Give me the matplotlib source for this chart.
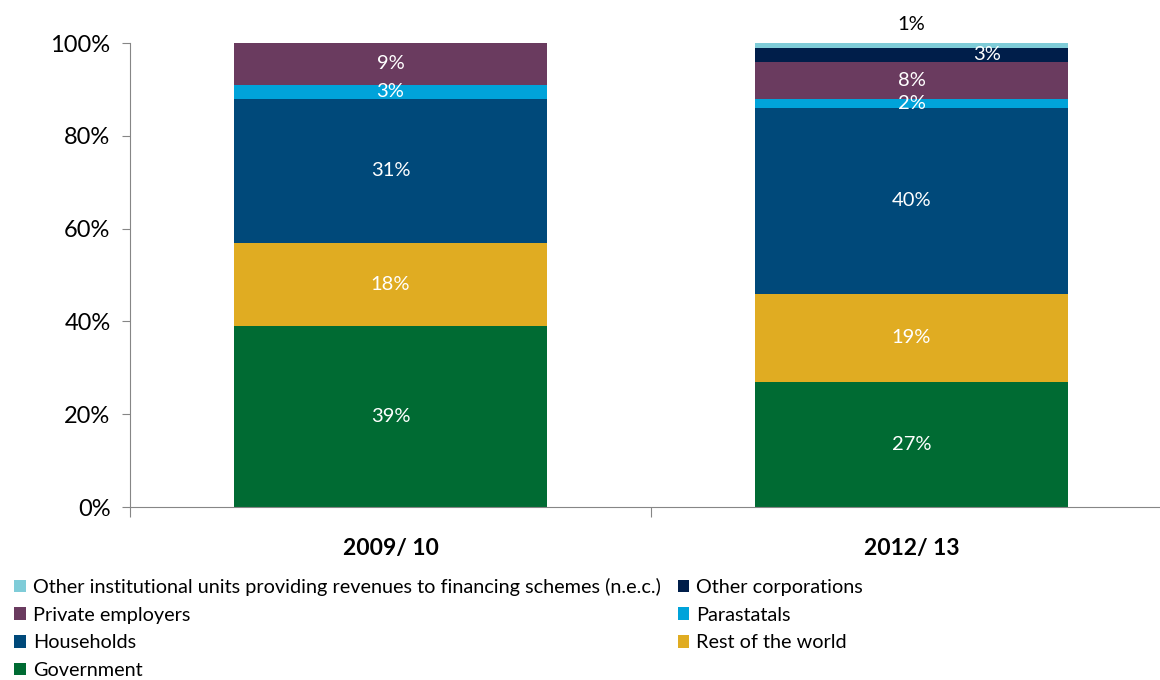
import matplotlib.pyplot as plt
import numpy as np

plt.rcParams['font.family'] = ['Lato', 'DejaVu Sans']

years = ['2009/ 10', '2012/ 13']
# shares of financing by source, bottom to top
government = [39, 27]
rest_of_world = [18, 19]
households = [31, 40]
parastatals = [3, 2]
private_employers = [9, 8]
other_corporations = [0, 3]
other_institutional = [0, 1]

series = [
    ('Government', government, '#006B33'),
    ('Rest of the world', rest_of_world, '#E0AC22'),
    ('Households', households, '#00497A'),
    ('Parastatals', parastatals, '#00A3DA'),
    ('Private employers', private_employers, '#6A3B5F'),
    ('Other corporations', other_corporations, '#001E4A'),
    ('Other institutional units providing revenues to financing schemes (n.e.c.)',
     other_institutional, '#7FCCD8'),
]

fig = plt.figure(figsize=(11.6, 6.8), dpi=100)
ax = fig.add_axes([130 / 1160, 1 - 507 / 680, 1042 / 1160, 464 / 680])

x = np.arange(len(years)) + 0.5
bottom = np.zeros(len(years))
bars = {}
for name, vals, col in series:
    v = np.array(vals, dtype=float) / 100
    bars[name] = ax.bar(x, v, 0.6, bottom=bottom, color=col, label=name, clip_on=False)
    for i, val in enumerate(vals):
        if val == 0:
            continue
        cx, cy = x[i], bottom[i] + v[i] / 2
        tc = 'white'
        if name == 'Other corporations':
            cx += 0.145
        if name.startswith('Other institutional'):
            cy = 1.039
            tc = 'black'
        ax.text(cx, cy, f'{val}%', ha='center', va='center', color=tc, fontsize=14.5)
    bottom += v

ax.set_xlim(0, 2)
ax.set_ylim(0, 1)
ax.set_yticks(np.arange(0, 1.01, 0.2))
ax.set_yticklabels([f'{int(t * 100)}%' for t in np.arange(0, 1.01, 0.2)], fontsize=17)
ax.set_xticks([0, 1, 2])
ax.set_xticklabels([])
ax.set_xticks(x, minor=True)
ax.set_xticklabels(years, minor=True, fontsize=16.5, fontweight='bold')
ax.tick_params(axis='x', which='minor', length=0, pad=22)
ax.tick_params(axis='x', which='major', length=7, color='#868686')
ax.tick_params(axis='y', length=6, color='#868686', pad=8)
for s in ['top', 'right']:
    ax.spines[s].set_visible(False)
for s in ['left', 'bottom']:
    ax.spines[s].set_color('#868686')

order = [
    'Other institutional units providing revenues to financing schemes (n.e.c.)',
    'Private employers', 'Households', 'Government',
    'Other corporations', 'Parastatals', 'Rest of the world',
]
handles = [bars[n] for n in order]
fig.legend(handles, order, loc='upper left', bbox_to_anchor=(0.0, 1 - 564 / 680),
           ncol=2, frameon=False, fontsize=14.3, handlelength=0.6, handleheight=0.6,
           handletextpad=0.35, columnspacing=0.85, labelspacing=0.54, borderaxespad=0.3)

fig.savefig('out.png', dpi=100)
